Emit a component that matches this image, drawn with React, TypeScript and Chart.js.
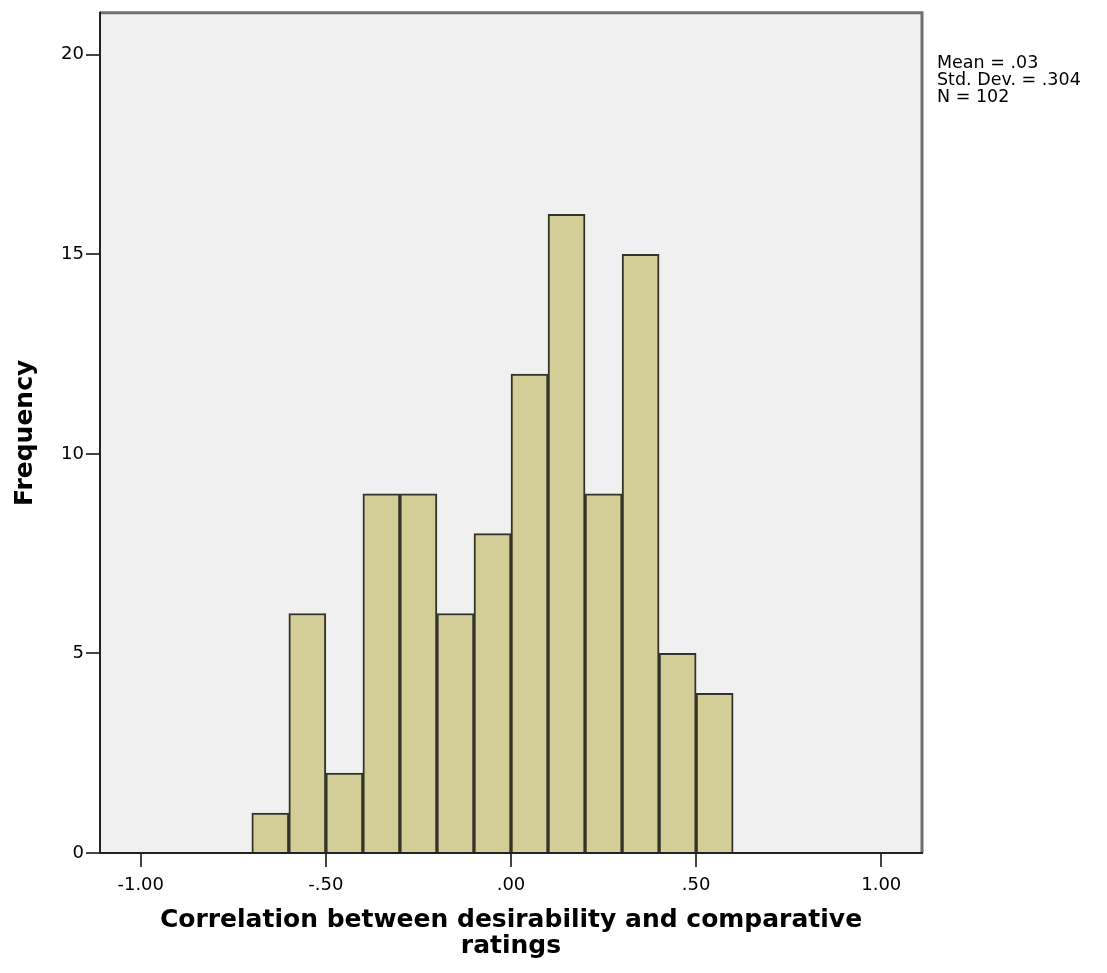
import React, { useEffect, useRef } from "react";
import { Chart, registerables } from "chart.js";

Chart.register(...registerables);

// Histogram bins (centres) and frequencies
const binCenters = [-0.65, -0.55, -0.45, -0.35, -0.25, -0.15, -0.05, 0.05, 0.15, 0.25, 0.35, 0.45, 0.55];
const frequencies = [1, 6, 2, 9, 9, 6, 8, 12, 16, 9, 15, 5, 4];

const xTickValues = [-1, -0.5, 0, 0.5, 1];
const xTickLabels = ["-1.00", "-.50", ".00", ".50", "1.00"];
const yTickValues = [0, 5, 10, 15, 20];

const statsLines = ["Mean = .03", "Std. Dev. = .304", "N = 102"];
const xTitle = ["Correlation between desirability and comparative", "ratings"];
const yTitle = "Frequency";

const W = 1107;
const H = 973;

export default function App() {
  const ref = useRef<HTMLCanvasElement | null>(null);

  useEffect(() => {
    if (!ref.current) return;
    const bgPlugin = {
      id: "spssFrame",
      beforeDraw(chart: any) {
        const { ctx, chartArea: a } = chart;
        ctx.save();
        ctx.fillStyle = "#ffffff";
        ctx.fillRect(0, 0, chart.width, chart.height);
        ctx.fillStyle = "#f0f0f0";
        ctx.fillRect(a.left, a.top, a.right - a.left, a.bottom - a.top);
        ctx.restore();
      },
      afterDatasetsDraw(chart: any) {
        const { ctx, chartArea: a } = chart;
        ctx.save();
        // top & right: gray
        ctx.strokeStyle = "#707070";
        ctx.lineWidth = 3;
        ctx.beginPath();
        ctx.moveTo(a.left, a.top);
        ctx.lineTo(a.right, a.top);
        ctx.lineTo(a.right, a.bottom);
        ctx.stroke();
        // left & bottom: dark
        ctx.strokeStyle = "#222222";
        ctx.lineWidth = 2;
        ctx.beginPath();
        ctx.moveTo(a.left, a.top - 1);
        ctx.lineTo(a.left, a.bottom);
        ctx.lineTo(a.right + 1, a.bottom);
        ctx.stroke();
        // statistics text
        ctx.fillStyle = "#000000";
        ctx.font = "17.5px 'DejaVu Sans'";
        ctx.textBaseline = "alphabetic";
        ctx.textAlign = "left";
        statsLines.forEach((t, i) => {
          ctx.fillText(t, a.right + 15, 68 + i * 17);
        });
        ctx.restore();
      },
    };

    const chart = new Chart(ref.current, {
      type: "bar",
      data: {
        datasets: [
          {
            data: binCenters.map((x, i) => ({ x, y: frequencies[i] })),
            backgroundColor: "#d3ce97",
            borderColor: "#333328",
            borderWidth: 2,
            barPercentage: 1,
            categoryPercentage: 1,
            grouped: false,
          } as any,
        ],
      },
      options: {
        animation: false,
        responsive: false,
        maintainAspectRatio: false,
        layout: { padding: { left: 0, top: 10, right: 185, bottom: 0 } },
        plugins: {
          legend: { display: false },
          tooltip: { enabled: false },
        },
        scales: {
          x: {
            type: "linear",
            min: -1.11,
            max: 1.11,
            offset: false,
            afterBuildTicks(scale: any) {
              scale.ticks = xTickValues.map((v) => ({ value: v }));
            },
            afterFit(scale: any) {
              scale.height = 120;
            },
            ticks: {
              color: "#000",
              font: { family: "'DejaVu Sans'", size: 18 },
              padding: 8,
              maxRotation: 0,
              autoSkip: false,
              callback: (v: any) => {
                const i = xTickValues.indexOf(Number(v));
                return i >= 0 ? xTickLabels[i] : "";
              },
            },
            grid: {
              offset: false,
              drawOnChartArea: false,
              drawTicks: true,
              tickLength: 14,
              color: "#444",
              lineWidth: 2,
            },
            border: { display: false },
            title: {
              display: true,
              text: xTitle,
              color: "#000",
              font: { family: "'DejaVu Sans'", size: 25, weight: "bold", lineHeight: 1.05 },
              padding: { top: 0, bottom: 13 },
            },
          } as any,
          y: {
            type: "linear",
            min: 0,
            max: 21.05,
            afterBuildTicks(scale: any) {
              scale.ticks = yTickValues.map((v) => ({ value: v }));
            },
            afterFit(scale: any) {
              scale.width = 100;
            },
            ticks: {
              color: "#000",
              font: { family: "'DejaVu Sans'", size: 18 },
              padding: 2,
              autoSkip: false,
            },
            grid: {
              drawOnChartArea: false,
              drawTicks: true,
              tickLength: 14,
              color: "#444",
              lineWidth: 2,
            },
            border: { display: false },
            title: {
              display: true,
              text: yTitle,
              color: "#000",
              font: { family: "'DejaVu Sans'", size: 25, weight: "bold", lineHeight: 1.2 },
              padding: { top: 10, bottom: 0 },
            },
          } as any,
        },
      },
      plugins: [bgPlugin],
    } as any);

    return () => chart.destroy();
  }, []);

  return (
    <div style={{ position: "absolute", left: 0, top: 0, width: W, height: H }}>
      <canvas ref={ref} width={W} height={H} style={{ display: "block" }} />
    </div>
  );
}
